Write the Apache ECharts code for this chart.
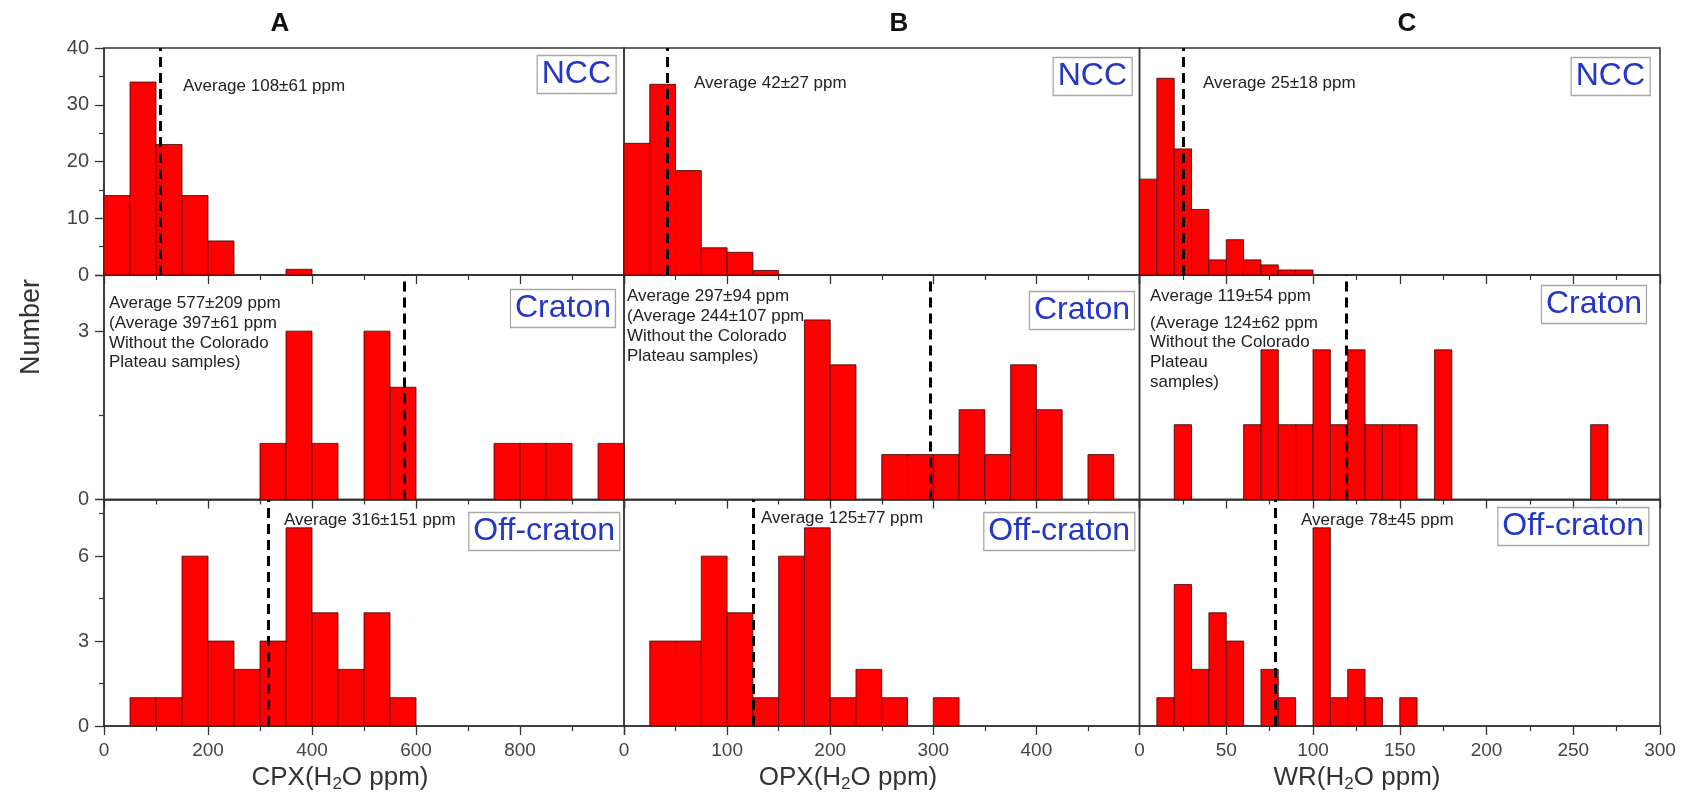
<!DOCTYPE html>
<html>
<head>
<meta charset="utf-8">
<script src="https://cdn.jsdelivr.net/npm/echarts@6/dist/echarts.min.js"></script>
<style>html,body{margin:0;padding:0;background:#fff}#chart{width:1692px;height:806px}</style>
</head>
<body>
<div id="chart"></div>
<script>
// ---------- DATA ----------
// Column A : CPX (bin width 50 ppm)
const cpxBinWidth = 50;
const cpxNccBinStarts = [0, 50, 100, 150, 200, 350];
const cpxNccCounts = [14, 34, 23, 14, 6, 1];
const cpxCratonBinStarts = [300, 350, 400, 500, 550, 750, 800, 850, 950];
const cpxCratonCounts = [1, 3, 1, 3, 2, 1, 1, 1, 1];
const cpxOffBinStarts = [50, 100, 150, 200, 250, 300, 350, 400, 450, 500, 550];
const cpxOffCounts = [1, 1, 6, 3, 2, 3, 7, 4, 2, 4, 1];
const cpxAverages = [108, 577, 316];

// Column B : OPX (bin width 25 ppm)
const opxBinWidth = 25;
const opxNccBinStarts = [0, 25, 50, 75, 100, 125];
const opxNccCounts = [29, 42, 23, 6, 5, 1];
const opxCratonBinStarts = [175, 200, 250, 275, 300, 325, 350, 375, 400, 450];
const opxCratonCounts = [4, 3, 1, 1, 1, 2, 1, 3, 2, 1];
const opxOffBinStarts = [25, 50, 75, 100, 125, 150, 175, 200, 225, 250, 300];
const opxOffCounts = [3, 3, 6, 4, 1, 6, 7, 1, 2, 1, 1];
const opxAverages = [42, 297, 125];

// Column C : WR (bin width 10 ppm)
const wrBinWidth = 10;
const wrNccBinStarts = [0, 10, 20, 30, 40, 50, 60, 70, 80, 90];
const wrNccCounts = [19, 39, 25, 13, 3, 7, 3, 2, 1, 1];
const wrCratonBinStarts = [20, 60, 70, 80, 90, 100, 110, 120, 130, 140, 150, 170, 260];
const wrCratonCounts = [1, 1, 2, 1, 1, 2, 1, 2, 1, 1, 1, 2, 1];
const wrOffBinStarts = [10, 20, 30, 40, 50, 70, 80, 100, 110, 120, 130, 150];
const wrOffCounts = [1, 5, 2, 4, 3, 2, 1, 7, 1, 2, 1, 1];
const wrAverages = [25, 119, 78];

// Axis settings
const columnTitles = ['A', 'B', 'C'];
const xTitleNames = ['CPX', 'OPX', 'WR'];
const xMaxByColumn = [1000, 500, 300];
const xIntervalByColumn = [200, 100, 50];
const rowTags = ['NCC', 'Craton', 'Off-craton'];
const yMaxRowNcc = [40, 50, 45];
const yMaxRowCraton = [4, 5, 3];
const yMaxRowOff = [8, 8, 8];
const yIntervalByRow = [10, 3, 3];
const yTickLabelsRowNcc = [0, 10, 20, 30, 40];
const yTickLabelsRowCraton = [0, 3];
const yTickLabelsRowOff = [0, 3, 6];

// Annotation texts
const nccTexts = [['Average 108\u00b161 ppm'], ['Average 42\u00b127 ppm'], ['Average 25\u00b118 ppm']];
const cratonTexts = [
  ['Average 577\u00b1209 ppm', '(Average 397\u00b161 ppm', 'Without the Colorado', 'Plateau samples)'],
  ['Average 297\u00b194 ppm', '(Average 244\u00b1107 ppm', 'Without the Colorado', 'Plateau samples)'],
  ['Average 119\u00b154 ppm', '(Average 124\u00b162 ppm', 'Without the Colorado', 'Plateau', 'samples)']
];
const offTexts = [['Average 316\u00b1151 ppm'], ['Average 125\u00b177 ppm'], ['Average 78\u00b145 ppm']];

// ---------- LAYOUT ----------
const FONT = '"Liberation Sans", Arial, sans-serif';
const colLeft = [104, 624, 1139.5];
const colWidth = [520, 515.5, 520.5];
const rowTop = [48, 275, 499.5];
const rowHeight = [227, 224.5, 226.5];

const binWidths = [cpxBinWidth, opxBinWidth, wrBinWidth];
const starts = [
  [cpxNccBinStarts, opxNccBinStarts, wrNccBinStarts],
  [cpxCratonBinStarts, opxCratonBinStarts, wrCratonBinStarts],
  [cpxOffBinStarts, opxOffBinStarts, wrOffBinStarts]
];
const counts = [
  [cpxNccCounts, opxNccCounts, wrNccCounts],
  [cpxCratonCounts, opxCratonCounts, wrCratonCounts],
  [cpxOffCounts, opxOffCounts, wrOffCounts]
];
const averagesByCol = [cpxAverages, opxAverages, wrAverages];
const yMaxByRow = [yMaxRowNcc, yMaxRowCraton, yMaxRowOff];
const yLabelsByRow = [yTickLabelsRowNcc, yTickLabelsRowCraton, yTickLabelsRowOff];

// text positions (pixels)
const nccTextPos = [[183, 86], [694, 83], [1203, 83]];
const cratonTextX = [109, 627, 1150];
const cratonTextY = [[303, 323, 343, 362], [296, 316, 336, 356], [296, 323, 342, 362, 382]];
const offTextPos = [[284, 520], [761, 518], [1301, 520]];
const tagBox = [ // [right edge x, top y]
  [[616, 55], [1132, 57], [1650, 57]],
  [[616, 289], [1135, 291], [1647, 285]],
  [[620, 512], [1135, 512], [1649, 507]]
];

function renderBin(params, api) {
  const p0 = api.coord([api.value(0), api.value(2)]);
  const p1 = api.coord([api.value(1), 0]);
  return {
    type: 'rect',
    shape: { x: p0[0], y: p0[1], width: p1[0] - p0[0], height: p1[1] - p0[1] },
    style: { fill: '#ff0000', stroke: '#3a0505', lineWidth: 0.8 }
  };
}

const grids = [], xAxes = [], yAxes = [], series = [], titles = [], graphics = [];

for (let r = 0; r < 3; r++) {
  for (let c = 0; c < 3; c++) {
    const gi = r * 3 + c;
    grids.push({
      left: colLeft[c], top: rowTop[r], width: colWidth[c], height: rowHeight[r],
      show: true, borderColor: '#333', borderWidth: 1.5, backgroundColor: 'transparent'
    });
    xAxes.push({
      type: 'value', gridIndex: gi, min: 0, max: xMaxByColumn[c], interval: xIntervalByColumn[c],
      axisLine: { show: true, onZero: false, lineStyle: { color: '#333', width: 1.5 } },
      axisTick: { show: true, length: 9, lineStyle: { color: '#333', width: 1.3 } },
      minorTick: { show: true, splitNumber: 2, length: 5, lineStyle: { color: '#333', width: 1.2 } },
      splitLine: { show: false },
      axisLabel: {
        show: r === 2, fontSize: 19, color: '#444', fontFamily: FONT, margin: 15,
        showMaxLabel: c === 2, showMinLabel: true
      }
    });
    const labels = yLabelsByRow[r];
    yAxes.push({
      type: 'value', gridIndex: gi, min: 0, max: yMaxByRow[r][c],
      interval: c === 0 ? yIntervalByRow[r] : undefined,
      axisLine: { show: c === 0, lineStyle: { color: '#333', width: 1.5 } },
      axisTick: { show: c === 0, length: 9, lineStyle: { color: '#333', width: 1.3 } },
      minorTick: { show: c === 0, splitNumber: 2, length: 5, lineStyle: { color: '#333', width: 1.2 } },
      splitLine: { show: false },
      axisLabel: {
        show: c === 0, fontSize: 20, color: '#444', fontFamily: FONT, margin: 15,
        formatter: function (v) { return labels.indexOf(v) >= 0 ? String(v) : ''; }
      }
    });
    const bw = binWidths[c];
    const data = starts[r][c].map((s, i) => [s, s + bw, counts[r][c][i]]);
    series.push({
      type: 'custom', xAxisIndex: gi, yAxisIndex: gi, renderItem: renderBin,
      encode: { x: [0, 1], y: 2 }, data: data, silent: true,
      markLine: {
        silent: true, symbol: ['none', 'none'], label: { show: false },
        lineStyle: { color: '#000', width: 3, type: [10, 6] },
        data: [{ xAxis: averagesByCol[c][r] }]
      }
    });
    // region tag box
    titles.push({
      text: rowTags[r],
      right: 1692 - tagBox[r][c][0], top: tagBox[r][c][1],
      borderColor: '#a8a8a8', borderWidth: 1.3, padding: [1, 5, 1, 5],
      textStyle: { color: '#2336c8', fontSize: 32, fontWeight: 'normal', fontFamily: FONT, lineHeight: 37 }
    });
  }
}

// column titles
const colTitleX = [280, 899, 1407];
for (let c = 0; c < 3; c++) {
  graphics.push({
    type: 'text', x: colTitleX[c], y: 24,
    style: { text: columnTitles[c], font: 'bold 26px ' + FONT, fill: '#111', align: 'center', verticalAlign: 'middle', textAlign: 'center', textVerticalAlign: 'middle' }
  });
}
// x axis titles with subscript
const xTitleX = [340, 848, 1357];
for (let c = 0; c < 3; c++) {
  graphics.push({
    type: 'text', x: xTitleX[c], y: 778,
    style: {
      text: '{m|' + xTitleNames[c] + '(H}{s|2}{m|O ppm)}',
      align: 'center', verticalAlign: 'middle', textAlign: 'center', textVerticalAlign: 'middle',
      rich: {
        m: { fontSize: 26, lineHeight: 30, fontFamily: FONT, fill: '#333', color: '#333' },
        s: { fontSize: 17, lineHeight: 4, verticalAlign: 'bottom', fontFamily: FONT, fill: '#333', color: '#333' }
      }
    }
  });
}
// y title
graphics.push({
  type: 'text', x: 32, y: 327, rotation: Math.PI / 2,
  style: { text: 'Number', font: '27px ' + FONT, fill: '#333', align: 'center', verticalAlign: 'middle', textAlign: 'center', textVerticalAlign: 'middle' }
});
// annotations
function addText(str, x, y) {
  graphics.push({
    type: 'text', x: x, y: y,
    style: { text: str, font: '17px ' + FONT, fill: '#222', align: 'left', verticalAlign: 'middle', textAlign: 'left', textVerticalAlign: 'middle' }
  });
}
for (let c = 0; c < 3; c++) {
  addText(nccTexts[c][0], nccTextPos[c][0], nccTextPos[c][1]);
  cratonTexts[c].forEach((t, i) => addText(t, cratonTextX[c], cratonTextY[c][i]));
  addText(offTexts[c][0], offTextPos[c][0], offTextPos[c][1]);
}

const chart = echarts.init(document.getElementById('chart'), null, { renderer: 'canvas' });
chart.setOption({
  backgroundColor: '#ffffff',
  animation: false,
  title: titles,
  grid: grids,
  xAxis: xAxes,
  yAxis: yAxes,
  series: series,
  graphic: graphics
});
</script>
</body>
</html>
